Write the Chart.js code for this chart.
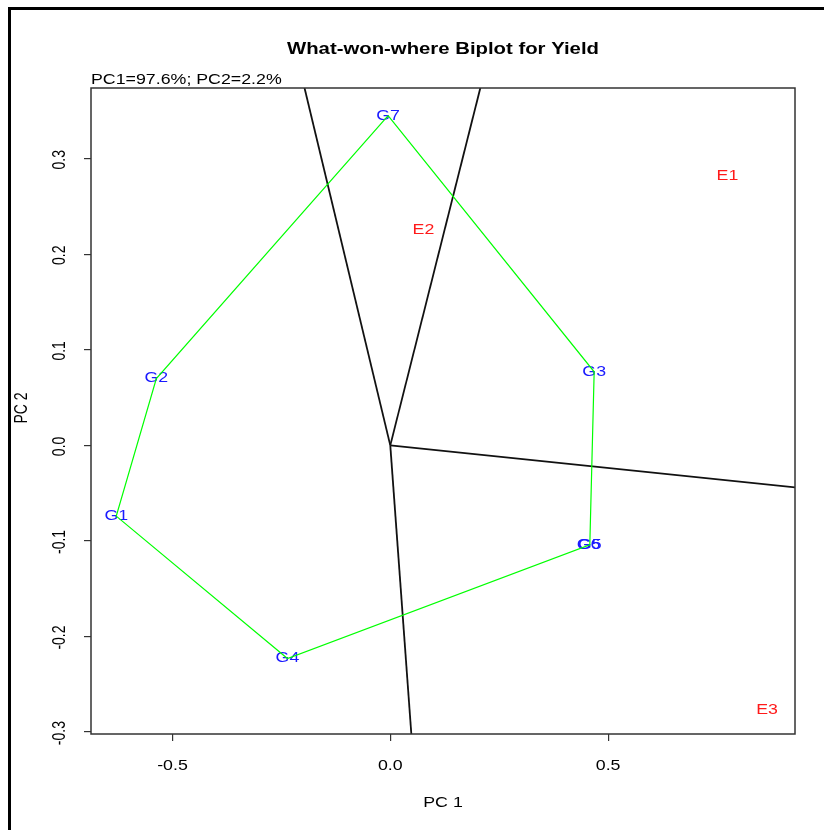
<!DOCTYPE html>
<html>
<head>
<meta charset="utf-8">
<script src="https://cdn.jsdelivr.net/npm/chart.js@4.4.1/dist/chart.umd.min.js"></script>
<style>
  html, body { margin: 0; padding: 0; background: #ffffff; }
  #wrap { width: 824px; height: 830px; }
</style>
</head>
<body>
<div id="wrap"><canvas id="biplot" width="824" height="830"></canvas></div>
<script>
// Genotype scores (PC1, PC2)
const genotypes = ['G1', 'G2', 'G3', 'G4', 'G5', 'G6', 'G7'];
const genoPC1 = [-0.629, -0.537, 0.468, -0.236, 0.458, 0.455, -0.005];
const genoPC2 = [-0.074, 0.070, 0.077, -0.223, -0.104, -0.104, 0.345];

// Environment scores (PC1, PC2)
const environments = ['E1', 'E2', 'E3'];
const envPC1 = [0.774, 0.076, 0.865];
const envPC2 = [0.282, 0.225, -0.277];

// Polygon joining the vertex genotypes
const hullOrder = ['G7', 'G3', 'G5', 'G4', 'G1', 'G2', 'G7'];

// Sector rays from the origin (end points beyond the frame, clipped)
const rayEndPC1 = [-0.200, 0.210, 0.940, 0.0496];
const rayEndPC2 = [0.380, 0.380, -0.0445, -0.310];

// Axis ticks
const xTicks = [-0.5, 0.0, 0.5];
const yTicks = [-0.3, -0.2, -0.1, 0.0, 0.1, 0.2, 0.3];

const titleText = 'What-won-where Biplot for Yield';
const subtitleText = 'PC1=97.6%; PC2=2.2%';
const xTitle = 'PC 1';
const yTitle = 'PC 2';

const FONT = '"Liberation Sans", Arial, Helvetica, sans-serif';
const SX = 1.27; // horizontal widening of all lettering

function drawText(ctx, str, x, y, o) {
  ctx.save();
  ctx.translate(x, y);
  ctx.scale(SX, 1);
  if (o.rotate) ctx.rotate(-Math.PI / 2);
  ctx.font = o.font;
  ctx.fillStyle = o.color || '#000';
  ctx.textAlign = o.align || 'center';
  ctx.textBaseline = o.baseline || 'middle';
  ctx.fillText(str, 0, 0);
  ctx.restore();
}

const hullData = hullOrder.map(g => {
  const i = genotypes.indexOf(g);
  return { x: genoPC1[i], y: genoPC2[i] };
});
const rayDatasets = rayEndPC1.map((x, i) => ({
  label: 'ray' + (i + 1),
  data: [{ x: 0, y: 0 }, { x: x, y: rayEndPC2[i] }],
  showLine: true,
  borderColor: '#111111',
  borderWidth: 1.8,
  pointRadius: 0,
  fill: false
}));

const biplotDecor = {
  id: 'biplotDecor',
  beforeDraw(chart) {
    const ctx = chart.ctx;
    ctx.save();
    ctx.fillStyle = '#ffffff';
    ctx.fillRect(0, 0, chart.width, chart.height);
    ctx.fillStyle = '#000000';
    ctx.fillRect(8, 7, 3, chart.height - 7);
    ctx.fillRect(8, 7, chart.width - 8, 3);
    ctx.restore();
  },
  beforeDatasetsDraw(chart) {
    const ctx = chart.ctx;
    const xs = chart.scales.x, ys = chart.scales.y;
    const f = '14px ' + FONT;
    genotypes.forEach((g, i) => {
      drawText(ctx, g, xs.getPixelForValue(genoPC1[i]), ys.getPixelForValue(genoPC2[i]),
        { font: f, color: '#1a1aff' });
    });
    environments.forEach((e, i) => {
      drawText(ctx, e, xs.getPixelForValue(envPC1[i]), ys.getPixelForValue(envPC2[i]),
        { font: f, color: '#ff1a1a' });
    });
  },
  afterDraw(chart) {
    const ctx = chart.ctx;
    const a = chart.chartArea;
    const xs = chart.scales.x, ys = chart.scales.y;
    // plot frame
    ctx.save();
    ctx.strokeStyle = '#333333';
    ctx.lineWidth = 1.5;
    ctx.strokeRect(a.left, a.top, a.right - a.left, a.bottom - a.top);
    ctx.restore();
    const f = '14px ' + FONT;
    // tick labels
    xTicks.forEach(v => drawText(ctx, v.toFixed(1), xs.getPixelForValue(v), a.bottom + 32, { font: f }));
    yTicks.forEach(v => drawText(ctx, v.toFixed(1), a.left - 31, ys.getPixelForValue(v) + 1, { font: f, rotate: true }));
    // axis titles
    drawText(ctx, xTitle, (a.left + a.right) / 2, a.bottom + 69, { font: f });
    drawText(ctx, yTitle, 22, (a.top + a.bottom) / 2 - 3, { font: f, rotate: true });
    // titles
    drawText(ctx, titleText, (a.left + a.right) / 2, 50, { font: 'bold 16px ' + FONT });
    drawText(ctx, subtitleText, a.left, 80, { font: f, align: 'left' });
  }
};

new Chart(document.getElementById('biplot'), {
  type: 'scatter',
  data: {
    datasets: [
      {
        label: 'polygon',
        data: hullData,
        showLine: true,
        borderColor: '#00ff00',
        borderWidth: 1.2,
        pointRadius: 0,
        fill: false
      },
      ...rayDatasets,
      {
        label: 'genotypes',
        data: genotypes.map((g, i) => ({ x: genoPC1[i], y: genoPC2[i] })),
        pointRadius: 0
      },
      {
        label: 'environments',
        data: environments.map((e, i) => ({ x: envPC1[i], y: envPC2[i] })),
        pointRadius: 0
      }
    ]
  },
  options: {
    responsive: false,
    animation: false,
    devicePixelRatio: 1,
    layout: { padding: { top: 88, right: 29, left: 0, bottom: 0 } },
    plugins: {
      legend: { display: false },
      tooltip: { enabled: false },
      title: { display: false }
    },
    scales: {
      x: {
        type: 'linear',
        min: -0.687,
        max: 0.929,
        afterBuildTicks: s => { s.ticks = xTicks.map(v => ({ value: v })); },
        afterFit: s => { s.height = 96; },
        ticks: { display: false },
        border: { display: false },
        grid: { drawOnChartArea: false, drawTicks: true, tickLength: 7, color: '#333333', lineWidth: 1.2 }
      },
      y: {
        type: 'linear',
        min: -0.302,
        max: 0.374,
        afterBuildTicks: s => { s.ticks = yTicks.map(v => ({ value: v })); },
        afterFit: s => { s.width = 91; },
        ticks: { display: false },
        border: { display: false },
        grid: { drawOnChartArea: false, drawTicks: true, tickLength: 7, color: '#333333', lineWidth: 1.2 }
      }
    }
  },
  plugins: [biplotDecor]
});
</script>
</body>
</html>
